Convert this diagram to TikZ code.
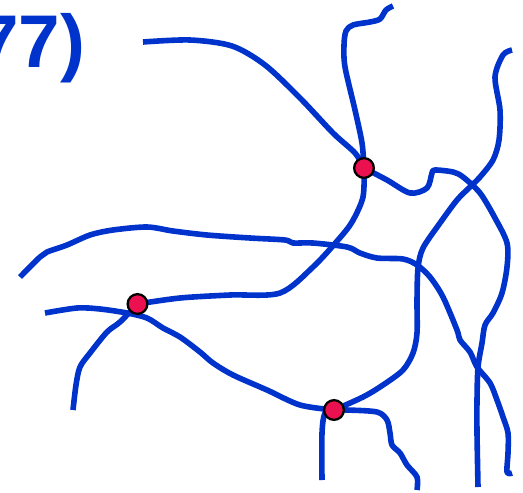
\documentclass[tikz,border=0pt]{standalone}
\usepackage{fontspec}
\newfontfamily\headfont{Liberation Sans}
\definecolor{roadblue}{RGB}{0,51,204}
\definecolor{knot}{RGB}{235,16,80}
\begin{document}
\begin{tikzpicture}[x=0.75pt,y=-0.75pt,
  road/.style={draw=roadblue,line width=4.2pt,line join=round},
  junction/.style={circle,fill=knot,draw=black,line width=1.7pt,minimum size=14.8pt,inner sep=0pt}]
\useasboundingbox (0,0) rectangle (523,492);
\node[anchor=base west,inner sep=0pt,text=roadblue,font=\headfont\bfseries\fontsize{56pt}{60pt}\selectfont] (title) at (-23,67) {77)};

\coordinate (a) at (364,168);
\coordinate (b) at (137.5,304);
\coordinate (c) at (334,410);

% roads
\draw[road] plot[smooth,tension=0.5] coordinates {(143,42) (190,40) (232,46) (265,65) (300,98) (333,133) (355,153) (a)};
\draw[road] plot[smooth,tension=0.5] coordinates {(393,6) (386,10) (380,19) (370,22) (353,25) (346,31) (344,45) (345,67) (355,110) (362,143) (a)};
\draw[road] plot[smooth,tension=0.5] coordinates {(a) (363,197) (352,222) (338,240) (313,267) (280,293) (230,295) (180,298) (b)};
\draw[road] plot[smooth,tension=0.5] coordinates {(45,313) (77,308) (100,309) (127,313) (147,318) (163,328) (180,337) (200,352) (213,363) (233,375) (267,390) (300,405) (c)};
\draw[road] plot[smooth,tension=0.5] coordinates {(73,410) (76,385) (80,367) (90,353) (107,332) (120,322) (b)};
\draw[road] plot[smooth,tension=0.5] coordinates {(20,277) (40,257) (47,252) (67,245) (90,235) (113,230) (147,227) (173,231) (207,235) (250,238) (285,240) (293,243) (313,243) (347,247) (360,253) (377,258) (403,259) (417,265) (430,277) (443,297) (457,330) (460,340) (470,352) (477,367) (490,383) (497,400) (503,417) (508,433) (508,453) (507,472) (512,473)};
\draw[road] plot[smooth,tension=0.5] coordinates {(512,50) (503,55) (495,77) (500,110) (499,140) (493,160) (480,177) (470,187) (457,200) (440,223) (423,248) (418,268) (417,300) (417,333) (413,353) (403,370) (383,385) (363,397) (c)};
\draw[road] plot[smooth,tension=0.5] coordinates {(a) (387,180) (410,193) (427,188) (432,173) (435,170) (453,172) (463,177) (480,193) (495,218) (507,243) (507,267) (502,293) (493,313) (485,325) (482,343) (478,367) (477,400) (477,433) (478,487)};
\draw[road] plot[smooth,tension=0.5] coordinates {(c) (325,413) (322,433) (322,480)};
\draw[road] plot[smooth,tension=0.5] coordinates {(c) (347,410) (377,412) (387,420) (390,433) (392,445) (400,453) (407,465) (417,477) (417,490)};

% junctions
\node[junction] (ja) at (a) {};
\node[junction] (jb) at (b) {};
\node[junction] (jc) at (c) {};
\end{tikzpicture}
\end{document}
